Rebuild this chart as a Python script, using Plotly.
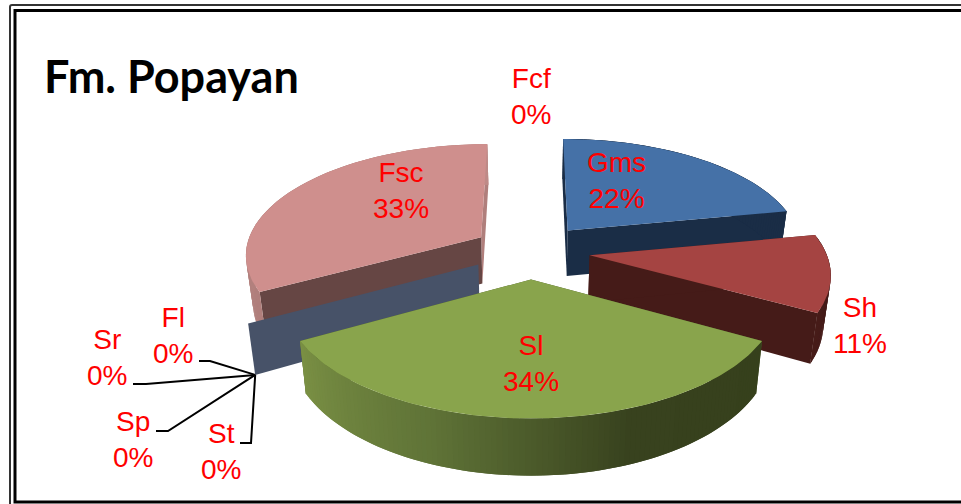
import math
import plotly.graph_objects as go

categories = ["Fcf", "Gms", "Sh", "Sl", "St", "Sp", "Sr", "Fl", "Fsc"]
values = [0, 22, 11, 34, 0, 0, 0, 0, 33]
title_text = "Fm. Popayan"

TOP = {"Gms": "#4571a7", "Sh": "#a54442", "Sl": "#89a44c", "Fsc": "#cf8f8d"}
RADIAL_START = {"Gms": "#1a2d46", "Sh": "#451b18", "Sl": "#4a5a28", "Fsc": "#664644",
                "St": "#475268"}
RADIAL_END = {"Gms": "#1a2d46", "Sh": "#451b18", "Sl": "#4a5a28", "Fsc": "#b07f7c"}
WALL = {"Gms": [(26, 45, 70), (26, 45, 70)], "Sh": [(71, 28, 25), (60, 24, 22)],
        "Sl": [(122, 144, 68), (95, 115, 55), (56, 66, 30), (54, 64, 28)],
        "Fsc": [(190, 138, 135), (176, 127, 124)]}
DRAW_ORDER = ["Fsc", "St", "Gms", "Sh", "Sl"]
LABEL_POS = {"Fcf": (531, 96), "Gms": (616, 180), "Sh": (860, 325), "Sl": (531, 363),
             "St": (221, 451), "Sp": (133, 439), "Sr": (107, 357), "Fl": (173, 335),
             "Fsc": (401, 190)}
LEADER_ELBOWS = {"St": [(240, 443), (251, 443)], "Sp": [(156, 431), (168, 431)],
                 "Sr": [(133, 384), (146, 384)], "Fl": [(199, 361), (210, 361)]}

# projection of the exploded pie (ground plane -> picture)
CX, CY, RX, KY, PERSP, EXPLODE, THICK, TAPER = 531, 251, 236, 110, 0.143, 0.25, 47, 0.975


def project(px, pd, lower=False):
    s = 1 / (1 + PERSP * pd)
    x = RX * px * s
    y = CY - KY * pd * s
    if lower:
        return CX + x * TAPER, y + THICK * s
    return CX + x, y


def lerp_color(stops, t):
    pos = t * (len(stops) - 1)
    i = min(int(pos), len(stops) - 2)
    f = pos - i
    c = [round(stops[i][k] + (stops[i + 1][k] - stops[i][k]) * f) for k in range(3)]
    return f"rgb({c[0]},{c[1]},{c[2]})"


fig = go.Figure()


def poly(points, color):
    xs = [p[0] for p in points] + [points[0][0]]
    ys = [p[1] for p in points] + [points[0][1]]
    fig.add_trace(go.Scatter(x=xs, y=ys, mode="lines", fill="toself", fillcolor=color,
                             line=dict(color=color, width=0), hoverinfo="skip",
                             showlegend=False))


total = sum(values)
spans, acc = {}, 0.0
for name, v in zip(categories, values):
    a0 = acc / total * 2 * math.pi
    acc += v
    spans[name] = (a0, acc / total * 2 * math.pi)


def ground(name, a, r=1.0):
    a0, a1 = spans[name]
    mid = (a0 + a1) / 2
    return EXPLODE * math.sin(mid) + r * math.sin(a), EXPLODE * math.cos(mid) + r * math.cos(a)


def radial_wall(name, a, color):
    apex = ground(name, a, 0)
    rim = ground(name, a, 1)
    poly([project(*apex), project(*rim), project(*rim, True), project(*apex, True)], color)


for name in DRAW_ORDER:
    a0, a1 = spans[name]
    if a1 == a0:
        radial_wall(name, a0, RADIAL_START[name])
        continue
    n = max(6, int((a1 - a0) / 0.02))
    angles = [a0 + (a1 - a0) * i / n for i in range(n + 1)]
    radial_wall(name, a1, RADIAL_END[name])
    radial_wall(name, a0, RADIAL_START[name])
    for i in range(n):
        # each strip overlaps the next one so no seams show between them
        sub = angles[i:i + 3]
        color = lerp_color(WALL[name], 1 - (i + 0.5) / n)
        gs = [ground(name, a) for a in sub]
        poly([project(*g) for g in gs] + [project(*g, True) for g in reversed(gs)], color)
    poly([project(*ground(name, a0, 0))] + [project(*ground(name, a)) for a in angles], TOP[name])

corner = project(*ground("St", spans["St"][0]), True)
for name, elbow in LEADER_ELBOWS.items():
    pts = elbow + [corner]
    fig.add_trace(go.Scatter(x=[p[0] for p in pts], y=[p[1] for p in pts], mode="lines",
                             line=dict(color="black", width=2), hoverinfo="skip",
                             showlegend=False))

annotations = [dict(x=LABEL_POS[n][0], y=LABEL_POS[n][1], xref="x", yref="y",
                    text=f"{n}<br>{round(v / total * 100)}%", showarrow=False,
                    align="center",
                    font=dict(family="Liberation Sans", size=28, color="#ff0000"))
               for n, v in zip(categories, values)]
annotations.append(dict(x=42, y=76, xref="x", yref="y", xanchor="left", text=f"<b>{title_text}</b>",
                        showarrow=False, font=dict(family="Lato", size=45, color="black")))

frame = [
    dict(type="path", path="M 961 5 L 12 5 Q 10 5 10 7 L 10 504", xref="x", yref="y",
         line=dict(color="#333333", width=2)),
    dict(type="path", path="M 961 10.5 L 15 10.5 L 15 502 L 961 502", xref="x", yref="y",
         line=dict(color="black", width=3)),
]

fig.update_layout(width=961, height=504, margin=dict(l=0, r=0, t=0, b=0),
                  paper_bgcolor="white", plot_bgcolor="white", showlegend=False,
                  xaxis=dict(range=[0, 961], visible=False, fixedrange=True),
                  yaxis=dict(range=[504, 0], visible=False, fixedrange=True),
                  annotations=annotations, shapes=frame)
fig.write_html("out.html", config={"displayModeBar": False},
               post_script="document.body.style.margin='0';document.body.style.overflow='hidden';")
